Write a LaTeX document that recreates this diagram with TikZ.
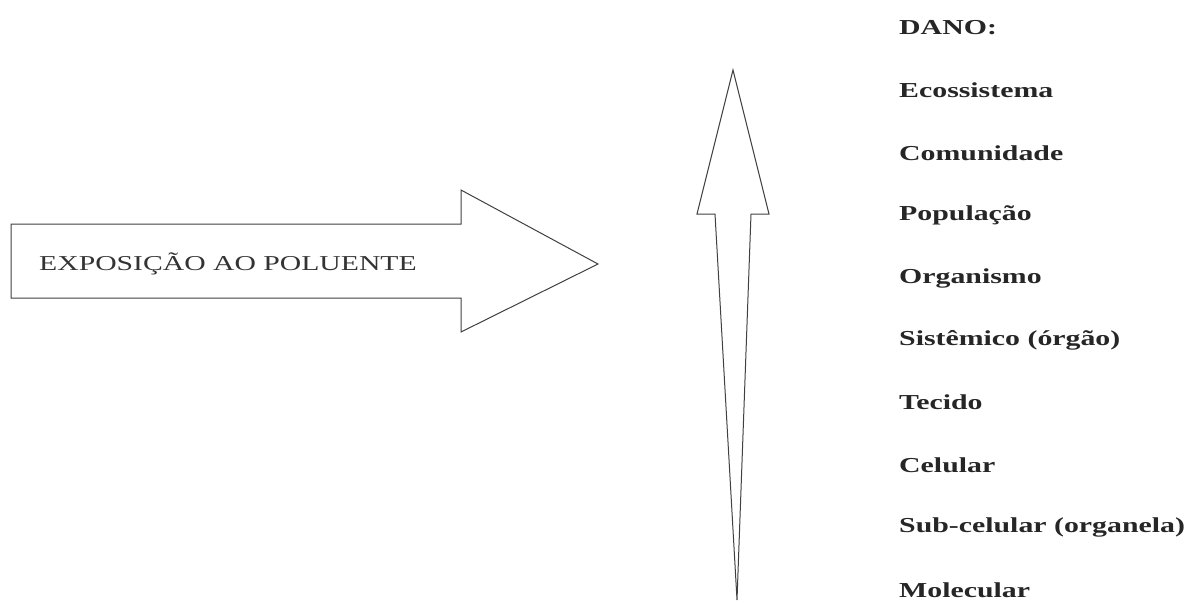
\documentclass[tikz,border=0pt]{standalone}
\usepackage{fontspec}
\setmainfont{Liberation Serif}
\newfontfamily\labfont[FakeStretch=1.4]{Liberation Serif}
\begin{document}
\begin{tikzpicture}[x=1pt,y=-1pt]
\tikzset{
  outline/.style={draw=black!75, line width=1pt, fill=white, line join=miter},
  lvl/.style={anchor=west, inner sep=0pt, text=black!85, font=\labfont\bfseries\fontsize{21.3}{24}\selectfont},
  expo/.style={inner sep=0pt, text=black!80, font=\labfont\fontsize{21.2}{24}\selectfont}
}
\useasboundingbox (0,0) rectangle (1191,603);
% horizontal arrow
\draw[outline] (11,224) -- (461,224) -- (461,190) -- (598,264) -- (461,332) -- (461,298) -- (11,298) -- cycle;
\node[expo] (expo) at (228,264) {EXPOSIÇÃO AO POLUENTE};
% vertical arrow
\draw[outline] (737,600) -- (715,214) -- (697,214) -- (733,70) -- (769,214) -- (751,214) -- cycle;
\coordinate (tip) at (733,70);
% labels
\node[lvl] (dano) at (899,28) {DANO:};
\node[lvl] (l1) at (899,90) {Ecossistema};
\node[lvl] (l2) at (899,153) {Comunidade};
\node[lvl] (l3) at (899,215) {População};
\node[lvl] (l4) at (899,278) {Organismo};
\node[lvl] (l5) at (899,340) {Sistêmico (órgão)};
\node[lvl] (l6) at (899,402) {Tecido};
\node[lvl] (l7) at (899,465) {Celular};
\node[lvl] (l8) at (899,527) {Sub-celular (organela)};
\node[lvl] (l9) at (899,590) {Molecular};
\end{tikzpicture}
\end{document}
